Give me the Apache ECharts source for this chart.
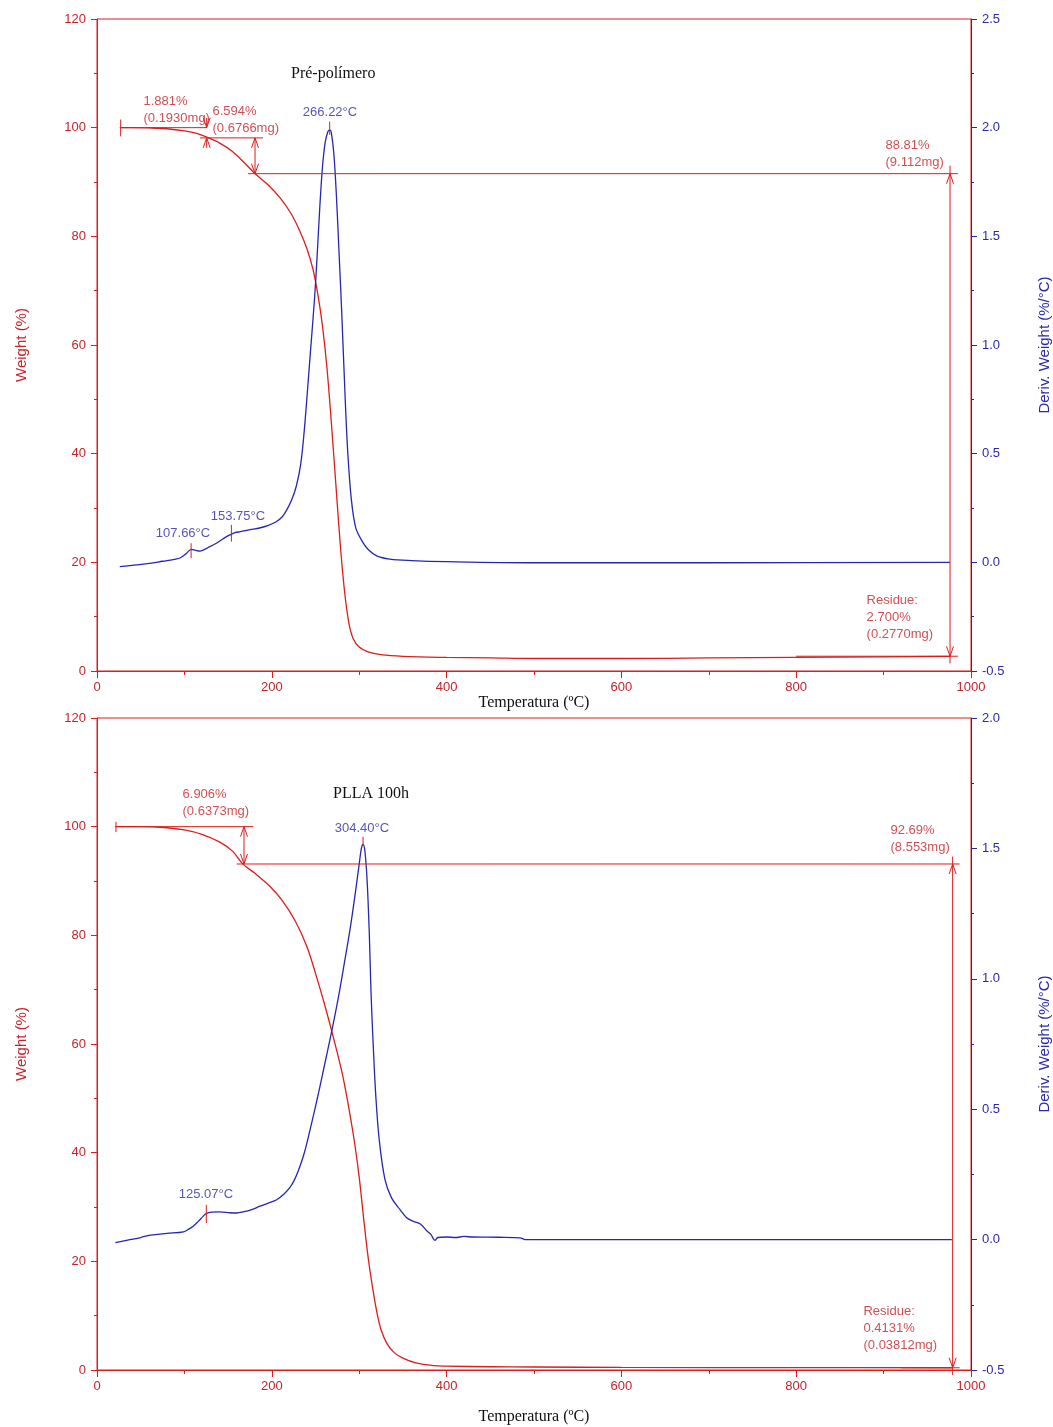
<!DOCTYPE html>
<html lang="pt">
<head>
<meta charset="UTF-8">
<title>TGA - Pré-polímero / PLLA 100h</title>
<script src="https://cdn.jsdelivr.net/npm/echarts@6/dist/echarts.min.js"></script>
</head>
<body style="margin:0;background:#fff">
<div id="myChart" style="width:1053px;height:1427px;"></div>
<script>
// curva de peso (%) e derivada (%/°C) - pré-polímero
var prePolyWeight = [
  [26,100],[40,100],[60,99.95],[80,99.8],[100,99.4],[115,98.9],[125,98.3],[140,97.2],[155,95.6],
  [170,93.3],[181,91.5],[195,89.6],[210,87],[222,84.2],[232,81],[240,77.8],[247,74],[253,69],
  [258,63.5],[263,56],[268,46],[273,35],[278,24],[283,15],[288,9],[293,6],[300,4.4],[310,3.5],
  [325,3.0],[350,2.7],[400,2.5],[450,2.4],[500,2.3],[600,2.3],[700,2.4],[800,2.5],[900,2.6],[976,2.7]
];
var prePolyDeriv = [
  [26,-0.02],[45,-0.012],[60,-0.005],[75,0.005],[90,0.015],[95,0.02],[102,0.04],[108,0.06],[113,0.055],
  [118,0.052],[128,0.07],[137,0.089],[145,0.11],[152,0.126],[158,0.137],[164,0.141],[175,0.15],[186,0.158],
  [196,0.17],[205,0.187],[212,0.21],[217,0.24],[223,0.29],[228,0.35],[233,0.45],[237,0.6],[241,0.8],
  [245,1.01],[249,1.22],[252,1.42],[255,1.64],[258,1.82],[261,1.93],[264,1.98],[266.2,1.99],[268,1.98],
  [271,1.88],[274,1.68],[277,1.42],[280,1.15],[284,0.75],[287,0.5],[291,0.29],[296,0.16],[303,0.1],
  [310,0.06],[320,0.03],[335,0.015],[360,0.008],[400,0.003],[500,-0.002],[700,-0.002],[976,0]
];
// PLLA 100h
var pllaWeight = [
  [21,100],[50,100],[80,99.8],[100,99.4],[120,98.6],[140,97.2],[155,95.5],[167,93.1],[180,91.5],
  [198,89],[212,86.4],[227,82.6],[240,78],[250,73],[260,67.5],[270,61.5],[280,55],[285,51],
  [290,46.5],[295,41.5],[300,35.5],[305,28],[310,21],[315,15.5],[320,10.8],[325,7.4],[332,4.8],[340,3.2],
  [350,2.2],[365,1.3],[385,0.8],[400,0.7],[450,0.6],[500,0.55],[600,0.48],[800,0.43],[978,0.41]
];
var pllaDeriv = [
  [21,-0.012],[35,-0.002],[50,0.008],[61,0.017],[80,0.024],[99,0.03],[105,0.04],[110,0.051],[116,0.07],
  [121.6,0.09],[125,0.1],[131,0.105],[140,0.106],[152,0.103],[160,0.102],[167,0.106],[177,0.115],
  [186.5,0.128],[196,0.14],[205.6,0.153],[214,0.175],[220.8,0.2],[226,0.23],[231,0.27],[237,0.33],
  [243.7,0.42],[252,0.54],[261,0.68],[268,0.79],[275.7,0.92],[283,1.06],[290,1.2],[296,1.34],[300,1.44],
  [302.5,1.5],[304.4,1.515],[306.5,1.49],[309,1.38],[311.5,1.18],[313.5,0.95],[316,0.75],[319,0.55],
  [323,0.38],[329.5,0.23],[337,0.16],[346.7,0.115],[354,0.085],[362,0.07],[370,0.06],[377,0.035],
  [382,0.02],[386.7,-0.003],[390,0.008],[400,0.01],[410,0.008],[420,0.012],[430,0.01],[460,0.009],
  [484,0.007],[490,0],[600,0],[800,0],[978,0]
];

// eixos
var tempTicks = {min: 0, max: 1000, interval: 200};
var weightTicks = {min: 0, max: 120, interval: 20};
var derivTicks1 = {min: -0.5, max: 2.5, interval: 0.5};
var derivTicks2 = {min: -0.5, max: 2.0, interval: 0.5};

// anotações: [T, valor, texto]
var prePolyNotesW = [
  [52.6, 103.3, '1.881%\n(0.1930mg)'],
  [131.6, 101.4, '6.594%\n(0.6766mg)'],
  [901.6, 95.25, '88.81%\n(9.112mg)'],
  [880, 9.94, 'Residue:\n2.700%\n(0.2770mg)']
];
var prePolyNotesD = [
  [266.6, 2.072, '266.22°C'],
  [98.4, 0.135, '107.66°C'],
  [161.3, 0.213, '153.75°C']
];
var pllaNotesW = [
  [97.3, 104.45, '6.906%\n(0.6373mg)'],
  [907.3, 97.7, '92.69%\n(8.553mg)'],
  [876.4, 7.6, 'Residue:\n0.4131%\n(0.03812mg)']
];
var pllaNotesD = [
  [303.2, 1.578, '304.40°C'],
  [124.7, 0.175, '125.07°C']
];

// segmentos de medição: [T1, v1, T2, v2, setas] (0 nenhuma, 1 no fim, 2 nas duas pontas)
var prePolySegW = [
  [27.1,100, 125.5,100, 0], [27.1,98.4, 27.1,101.5, 0],
  [125.5,101.8, 125.5,100, 1], [125.5,96.3, 125.5,98.12, 1],
  [117.8,98.12, 190,98.12, 0], [180.8,98.12, 180.8,91.53, 2],
  [172.8,91.53, 985,91.53, 0], [976,93, 976,91.53, 0],
  [976,91.53, 976,2.72, 2], [976,2.72, 976,1.4, 0], [800,2.72, 985,2.72, 0]
];
var prePolySegD = [
  [107.66,0.019, 107.66,0.088, 0], [153.75,0.095, 153.75,0.172, 0], [266.22,1.967, 266.22,2.028, 0]
];
var pllaSegW = [
  [21.7,100, 178.5,100, 0], [21.7,99.0, 21.7,100.9, 0],
  [168.2,100, 168.2,93.13, 2], [159.8,93.13, 987,93.13, 0],
  [979,94.5, 979,93.13, 0], [979,93.13, 979,0.41, 2], [979,0.41, 979,-0.9, 0],
  [920,0.41, 987,0.41, 0]
];
var pllaSegD = [
  [125.07,0.063, 125.07,0.133, 0], [304.4,1.513, 304.4,1.545, 0]
];

var RED = '#dd1c1c', RED_TXT = '#c4232b', BLUE = '#2626b4', BLUE_TXT = '#2a2aa8';
var SANS = 'Liberation Sans', SERIF = 'Liberation Serif';

// seta aberta em "V" no ponto p, apontando na direção de q -> p
function arrowHead(p, q) {
  var dx = p[0] - q[0], dy = p[1] - q[1];
  var len = Math.sqrt(dx * dx + dy * dy) || 1;
  dx /= len; dy /= len;
  var L = 10, W = 3.5;
  return {
    type: 'polyline',
    shape: {points: [[p[0] - dx * L - dy * W, p[1] - dy * L + dx * W], p,
                     [p[0] - dx * L + dy * W, p[1] - dy * L - dx * W]]},
    style: {stroke: RED, lineWidth: 1, fill: null}
  };
}

function renderSeg(params, api) {
  var a = api.coord([api.value(0), api.value(1)]);
  var b = api.coord([api.value(2), api.value(3)]);
  var kind = api.value(4);
  var children = [{
    type: 'line', shape: {x1: a[0], y1: a[1], x2: b[0], y2: b[1]},
    style: {stroke: RED, lineWidth: 1}
  }];
  if (kind >= 1) children.push(arrowHead(b, a));
  if (kind === 2) children.push(arrowHead(a, b));
  return {type: 'group', children: children};
}

function segSeries(list, xi, yi) {
  return {
    type: 'custom', xAxisIndex: xi, yAxisIndex: yi, data: list, silent: true, clip: false,
    encode: {x: [0, 2], y: [1, 3]}, renderItem: renderSeg, z: 4
  };
}

function notes(list, centered, color) {
  return list.map(function (n) {
    return {
      value: [n[0], n[1]],
      label: {
        show: true, formatter: n[2], color: color, fontSize: 13, fontFamily: SANS, lineHeight: 17,
        position: centered ? 'inside' : 'right', distance: 0, align: centered ? 'center' : 'left'
      }
    };
  });
}

function xAxisOf(g, gap) {
  return {
    gridIndex: g, type: 'value', min: tempTicks.min, max: tempTicks.max, interval: tempTicks.interval,
    name: 'Temperatura (ºC)', nameLocation: 'middle', nameGap: gap,
    nameTextStyle: {color: '#111', fontSize: 16, fontFamily: SERIF},
    axisLine: {lineStyle: {color: RED}},
    axisTick: {length: 7, lineStyle: {color: RED}},
    minorTick: {show: true, splitNumber: 2, length: 4, lineStyle: {color: RED}},
    axisLabel: {color: RED_TXT, fontSize: 13, fontFamily: SANS, margin: 10,
      formatter: function (v) { return String(v); }},
    splitLine: {show: false}
  };
}

function weightAxisOf(g) {
  return {
    gridIndex: g, type: 'value', position: 'left',
    min: weightTicks.min, max: weightTicks.max, interval: weightTicks.interval,
    name: 'Weight (%)', nameLocation: 'middle', nameGap: 68, nameRotate: 90,
    nameTextStyle: {color: RED_TXT, fontSize: 15, fontFamily: SANS},
    axisLine: {show: true, lineStyle: {color: RED}},
    axisTick: {show: true, length: 6, lineStyle: {color: RED}},
    minorTick: {show: true, splitNumber: 2, length: 3, lineStyle: {color: RED}},
    axisLabel: {color: RED_TXT, fontSize: 13, fontFamily: SANS, margin: 11},
    splitLine: {show: false}
  };
}

function derivAxisOf(g, t) {
  return {
    gridIndex: g, type: 'value', position: 'right', min: t.min, max: t.max, interval: t.interval,
    name: 'Deriv. Weight (%/°C)', nameLocation: 'middle', nameGap: 66, nameRotate: 90,
    nameTextStyle: {color: BLUE_TXT, fontSize: 15, fontFamily: SANS},
    axisLine: {show: true, lineStyle: {color: BLUE}},
    axisTick: {show: true, length: 6, lineStyle: {color: BLUE}},
    minorTick: {show: true, splitNumber: 2, length: 3, lineStyle: {color: BLUE}},
    axisLabel: {color: BLUE_TXT, fontSize: 13, fontFamily: SANS, margin: 11,
      formatter: function (v) { return v.toFixed(1); }},
    splitLine: {show: false}
  };
}

function curve(data, xi, yi, color) {
  return {
    type: 'line', xAxisIndex: xi, yAxisIndex: yi, data: data, showSymbol: false, smooth: 0.35,
    lineStyle: {color: color, width: 1.3}, itemStyle: {color: color}, z: 3, silent: true
  };
}

function labelSeries(list, xi, yi, centered, color) {
  return {
    type: 'scatter', xAxisIndex: xi, yAxisIndex: yi, symbolSize: 1, silent: true,
    itemStyle: {color: 'rgba(0,0,0,0)'}, data: notes(list, centered, color), z: 5
  };
}

var option = {
  animation: false,
  backgroundColor: '#fff',
  title: [
    {text: 'Pré-polímero', left: 286, top: 61, textStyle: {fontFamily: SERIF, fontSize: 16, fontWeight: 'normal', color: '#111'}},
    {text: 'PLLA 100h', left: 328, top: 781, textStyle: {fontFamily: SERIF, fontSize: 16, fontWeight: 'normal', color: '#111'}}
  ],
  grid: [
    {left: 97, right: 82, top: 19, height: 652, show: true, borderColor: RED, borderWidth: 1, outerBoundsMode: 'none'},
    {left: 97, right: 82, top: 718, height: 652, show: true, borderColor: RED, borderWidth: 1, outerBoundsMode: 'none'}
  ],
  xAxis: [xAxisOf(0, 13), xAxisOf(1, 39)],
  yAxis: [weightAxisOf(0), derivAxisOf(0, derivTicks1), weightAxisOf(1), derivAxisOf(1, derivTicks2)],
  series: [
    curve(prePolyWeight, 0, 0, RED),
    curve(prePolyDeriv, 0, 1, BLUE),
    curve(pllaWeight, 1, 2, RED),
    curve(pllaDeriv, 1, 3, BLUE),
    segSeries(prePolySegW, 0, 0),
    segSeries(prePolySegD, 0, 1),
    segSeries(pllaSegW, 1, 2),
    segSeries(pllaSegD, 1, 3),
    labelSeries(prePolyNotesW, 0, 0, false, RED_TXT),
    labelSeries(prePolyNotesD, 0, 1, true, BLUE_TXT),
    labelSeries(pllaNotesW, 1, 2, false, RED_TXT),
    labelSeries(pllaNotesD, 1, 3, true, BLUE_TXT)
  ]
};

var myChart = echarts.init(document.getElementById('myChart'));
myChart.setOption(option);
</script>
</body>
</html>
